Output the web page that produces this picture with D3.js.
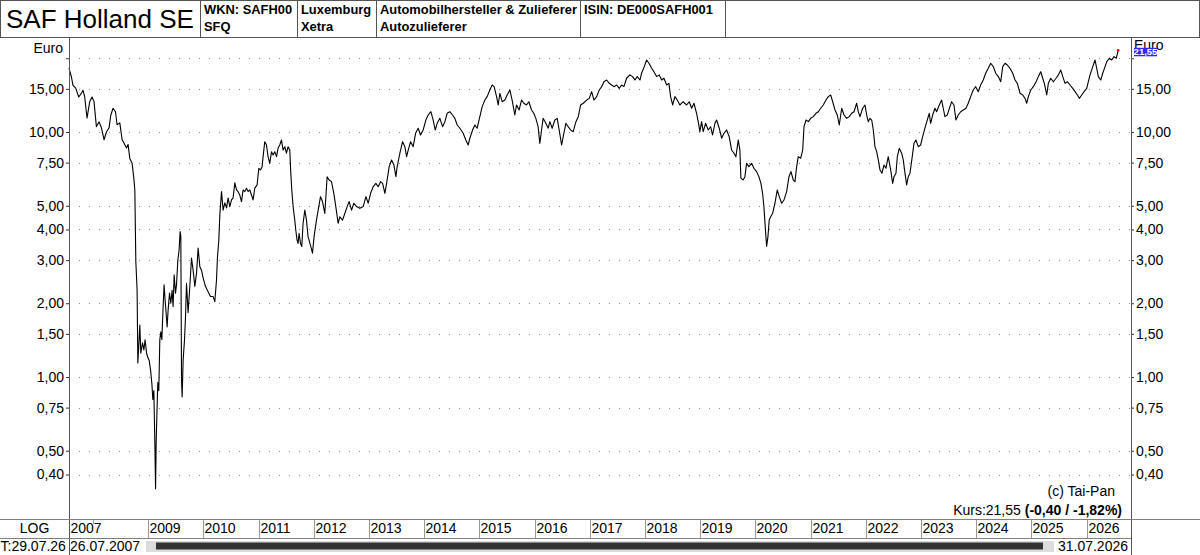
<!DOCTYPE html>
<html>
<head>
<meta charset="utf-8">
<script src="https://cdn.jsdelivr.net/npm/d3@7/dist/d3.min.js"></script>
<style>
  html, body { margin: 0; padding: 0; background: #fff; }
  svg { display: block; font-family: Arial, "Liberation Sans", sans-serif; }
</style>
</head>
<body>
<svg id="chart" width="1200" height="555"></svg>
<script>
// closing prices: decimal year / price in euro
const datesA = [2007.564, 2007.608, 2007.637, 2007.686, 2007.741, 2007.790, 2007.819, 2007.849, 2007.891, 2007.940, 2007.982,
  2008.018, 2008.061, 2008.109, 2008.152, 2008.199, 2008.243, 2008.290, 2008.321, 2008.362, 2008.406, 2008.435, 2008.484, 2008.526, 2008.562, 2008.605, 2008.634, 2008.665, 2008.707, 2008.737, 2008.756,
  2008.774, 2008.797, 2008.810, 2008.833, 2008.846, 2008.864, 2008.895, 2008.919, 2008.942, 2008.968, 2008.991,
  2009.015, 2009.040, 2009.064, 2009.082, 2009.100, 2009.118, 2009.131, 2009.142, 2009.154, 2009.172, 2009.190, 2009.208, 2009.227, 2009.245, 2009.268, 2009.286, 2009.304, 2009.322, 2009.341, 2009.359, 2009.384, 2009.408, 2009.431, 2009.449, 2009.468, 2009.493, 2009.511, 2009.535, 2009.558, 2009.576, 2009.589, 2009.602, 2009.613, 2009.631, 2009.656, 2009.674, 2009.692, 2009.721, 2009.752, 2009.783, 2009.812, 2009.843, 2009.874, 2009.903, 2009.934, 2009.964, 2009.993,
  2010.037, 2010.084, 2010.127, 2010.175, 2010.205, 2010.236, 2010.254, 2010.278, 2010.296, 2010.327, 2010.356, 2010.387, 2010.418, 2010.447, 2010.477, 2010.508, 2010.537, 2010.568, 2010.599, 2010.628, 2010.658, 2010.689, 2010.718, 2010.749, 2010.780, 2010.809, 2010.840, 2010.870, 2010.899, 2010.930, 2010.972];
const pricesA = [18.2, 16.8, 15.5, 15.1, 13.9, 14.4, 14.8, 13.9, 11.4, 13.3, 13.9,
  13.3, 10.5, 11.0, 10.4, 9.3, 10.0, 10.4, 11.7, 12.5, 12.1, 10.7, 10.9, 9.3, 9.0, 8.6, 8.9, 7.8, 7.45, 6.5, 5.8,
  2.96, 2.26, 1.14, 1.42, 1.63, 1.25, 1.38, 1.29, 1.42, 1.25, 1.2,
  1.17, 1.07, 0.94, 0.81, 0.88, 0.54, 0.35, 0.54, 0.69, 0.95, 0.88, 1.42, 1.53, 1.42, 1.94, 2.38, 2.06, 1.83, 1.6, 1.88, 2.2, 2.0, 2.26, 1.94, 2.61, 2.2, 2.38, 3.0, 3.3, 3.92, 3.74, 0.97, 0.83, 1.17, 1.42, 1.76, 2.41, 1.83, 2.34, 3.06, 2.73, 2.34, 2.66, 3.36, 2.82, 2.73, 2.54,
  2.34, 2.23, 2.13, 2.13, 2.03, 2.49, 3.1, 3.62, 4.58, 5.71, 4.8, 5.14, 4.9, 5.38, 4.96, 5.28, 5.38, 6.2, 5.8, 5.71, 5.53, 5.2, 5.8, 5.71, 5.9, 5.71, 5.8, 5.53, 5.28, 5.9, 6.08];

const datesB = [2011.003, 2011.034, 2011.062, 2011.081, 2011.111, 2011.142, 2011.171, 2011.202, 2011.233, 2011.262, 2011.293, 2011.324, 2011.352, 2011.383, 2011.414, 2011.443, 2011.474, 2011.505, 2011.534, 2011.565, 2011.583, 2011.601, 2011.625, 2011.655, 2011.673, 2011.697, 2011.715, 2011.733, 2011.759, 2011.782, 2011.806, 2011.837, 2011.867, 2011.896, 2011.914, 2011.945, 2011.976,
  2012.005, 2012.048, 2012.090, 2012.121, 2012.157, 2012.199, 2012.241, 2012.277, 2012.320, 2012.362, 2012.398, 2012.440, 2012.471, 2012.520, 2012.561, 2012.603, 2012.639, 2012.683, 2012.724, 2012.773, 2012.833, 2012.893, 2012.942, 2012.984,
  2013.027, 2013.074, 2013.123, 2013.165, 2013.208, 2013.245, 2013.286, 2013.317, 2013.364, 2013.408, 2013.450, 2013.486, 2013.509, 2013.558, 2013.607, 2013.649, 2013.680, 2013.709, 2013.752, 2013.799, 2013.843, 2013.890, 2013.933, 2013.980,
  2014.029, 2014.071, 2014.120, 2014.162, 2014.198, 2014.234, 2014.283, 2014.332, 2014.374, 2014.415, 2014.464, 2014.513, 2014.555, 2014.597, 2014.646, 2014.705, 2014.754, 2014.796, 2014.827, 2014.876, 2014.917, 2014.959];
const pricesB = [7.11, 7.0, 7.22, 7.93, 9.13, 8.85, 7.93, 7.45, 8.31, 8.06, 8.31, 7.93, 8.58, 8.85, 9.28, 8.44, 8.71, 8.19, 8.71, 8.44, 6.81, 5.8, 4.96, 4.37, 3.98, 3.62, 3.51, 3.86, 3.51, 3.41, 4.24, 4.8, 4.37, 3.74, 3.62, 3.41, 3.2,
  3.74, 4.37, 4.96, 5.45, 5.2, 4.65, 6.57, 6.37, 6.27, 5.62, 4.96, 4.24, 4.51, 4.37, 4.65, 4.96, 5.2, 4.8, 5.12, 4.96, 4.88, 4.96, 5.45, 5.12,
  5.62, 5.98, 6.17, 5.98, 6.27, 6.17, 5.62, 6.17, 7.22, 7.69, 7.33, 6.57, 7.22, 8.19, 9.13, 8.71, 7.93, 8.44, 9.13, 8.71, 9.88, 10.36, 9.72, 10.19,
  11.19, 11.73, 12.1, 11.19, 10.19, 10.85, 11.37, 10.51, 11.02, 11.92, 12.1, 11.73, 11.37, 10.68, 10.36, 9.88, 9.28, 8.85, 9.43, 10.19, 10.68, 10.36];

const datesC = [2015.008, 2015.050, 2015.099, 2015.140, 2015.189, 2015.231, 2015.267, 2015.311, 2015.340, 2015.371, 2015.412, 2015.461, 2015.503, 2015.552, 2015.593, 2015.642, 2015.673, 2015.720, 2015.764, 2015.805, 2015.854, 2015.896, 2015.945, 2015.986,
  2016.023, 2016.064, 2016.095, 2016.126, 2016.155, 2016.204, 2016.246, 2016.277, 2016.318, 2016.367, 2016.409, 2016.445, 2016.489, 2016.518, 2016.566, 2016.608, 2016.652, 2016.699, 2016.748, 2016.790, 2016.833, 2016.880, 2016.942, 2016.989,
  2017.032, 2017.074, 2017.123, 2017.170, 2017.214, 2017.255, 2017.304, 2017.351, 2017.395, 2017.437, 2017.485, 2017.532, 2017.576, 2017.617, 2017.666, 2017.726, 2017.775, 2017.817, 2017.859, 2017.908, 2017.938, 2017.986,
  2018.029, 2018.071, 2018.120, 2018.161, 2018.210, 2018.257, 2018.301, 2018.343, 2018.392, 2018.433, 2018.464, 2018.500, 2018.542, 2018.584, 2018.633, 2018.692, 2018.754, 2018.801, 2018.845, 2018.887, 2018.935, 2018.964, 2018.995];
const pricesC = [11.55, 12.69, 13.5, 13.94, 14.84, 15.55, 15.31, 13.94, 12.89, 14.39, 13.29, 13.5, 14.16, 14.84, 13.5, 11.73, 12.89, 12.3, 13.5, 13.1, 12.89, 13.29, 12.3, 11.92,
  11.37, 10.51, 8.99, 10.19, 11.37, 10.85, 10.36, 11.02, 10.36, 11.19, 11.37, 10.19, 8.85, 9.57, 10.85, 10.51, 10.19, 10.03, 11.02, 11.55, 12.89, 13.1, 13.5, 13.72,
  14.61, 13.5, 13.94, 14.84, 15.31, 16.04, 16.3, 15.8, 15.55, 15.31, 15.55, 15.07, 15.55, 15.31, 16.57, 17.1, 16.83, 16.3, 16.83, 16.3, 17.37, 18.49,
  19.68, 19.08, 18.2, 17.63, 16.83, 17.1, 16.3, 16.57, 15.55, 15.8, 13.94, 12.89, 13.94, 13.5, 12.89, 13.29, 12.89, 13.29, 12.5, 13.1, 11.92, 11.02, 10.03];

const datesD = [2019.026, 2019.055, 2019.098, 2019.146, 2019.189, 2019.225, 2019.267, 2019.298, 2019.345, 2019.389, 2019.430, 2019.479, 2019.526, 2019.570, 2019.612, 2019.648, 2019.690, 2019.720, 2019.738, 2019.780, 2019.811, 2019.842, 2019.883, 2019.932, 2019.974,
  2020.023, 2020.064, 2020.101, 2020.131, 2020.155, 2020.179, 2020.204, 2020.228, 2020.251, 2020.277, 2020.313, 2020.355, 2020.396, 2020.432, 2020.476, 2020.518, 2020.566, 2020.608, 2020.644, 2020.686, 2020.717, 2020.747, 2020.776, 2020.820, 2020.856, 2020.880, 2020.916, 2020.958,
  2021.001, 2021.048, 2021.097, 2021.139, 2021.182, 2021.229, 2021.278, 2021.320, 2021.363, 2021.400, 2021.441, 2021.483, 2021.519, 2021.563, 2021.605, 2021.654, 2021.701, 2021.744, 2021.786, 2021.834, 2021.864, 2021.894, 2021.943, 2021.985,
  2022.016, 2022.045, 2022.076, 2022.107, 2022.136, 2022.166, 2022.197, 2022.226, 2022.257, 2022.293, 2022.329, 2022.365, 2022.407, 2022.451, 2022.487, 2022.511, 2022.547, 2022.571, 2022.607, 2022.650, 2022.679, 2022.710, 2022.741, 2022.770, 2022.801, 2022.842, 2022.873, 2022.909, 2022.951, 2022.994];
const pricesD = [11.02, 10.03, 10.85, 10.19, 10.51, 9.72, 10.85, 11.19, 10.36, 9.43, 9.88, 10.19, 9.57, 8.44, 8.19, 7.93, 9.28, 8.44, 6.48, 6.37, 6.57, 7.45, 7.22, 7.45, 7.11,
  6.89, 6.57, 6.17, 5.62, 4.96, 4.1, 3.41, 3.74, 4.37, 4.51, 4.65, 5.12, 5.8, 5.45, 5.12, 5.28, 5.71, 6.57, 6.89, 6.37, 6.27, 7.22, 7.93, 7.82, 8.44, 10.51, 11.19, 11.02,
  11.37, 11.55, 11.92, 12.1, 12.5, 12.89, 13.5, 13.94, 14.16, 13.29, 12.3, 11.73, 10.68, 12.5, 11.73, 11.37, 11.55, 11.92, 12.1, 13.1, 12.1, 11.55, 12.5, 12.89,
  11.73, 11.02, 11.37, 11.19, 10.19, 8.71, 8.31, 7.69, 7.0, 6.79, 7.33, 7.11, 7.93, 7.0, 6.17, 6.57, 6.79, 7.93, 8.58, 8.19, 7.69, 6.79, 6.08, 6.57, 6.79, 7.93, 8.99, 9.28, 8.71, 8.85];

const datesE = [2023.031, 2023.072, 2023.114, 2023.150, 2023.176, 2023.212, 2023.254, 2023.284, 2023.332, 2023.375, 2023.404, 2023.435, 2023.477, 2023.526, 2023.556, 2023.598, 2023.634, 2023.676, 2023.720, 2023.767, 2023.816, 2023.857, 2023.901, 2023.948, 2023.992,
  2024.039, 2024.082, 2024.129, 2024.173, 2024.220, 2024.264, 2024.311, 2024.355, 2024.401, 2024.445, 2024.481, 2024.523, 2024.564, 2024.613, 2024.662, 2024.704, 2024.745, 2024.794, 2024.843, 2024.885, 2024.915, 2024.944, 2024.988,
  2025.035, 2025.084, 2025.126, 2025.169, 2025.205, 2025.234, 2025.278, 2025.307, 2025.350, 2025.398, 2025.446, 2025.488, 2025.532, 2025.568, 2025.610, 2025.651, 2025.700, 2025.749, 2025.791, 2025.833, 2025.869, 2025.912, 2025.954,
  2026.003, 2026.032, 2026.063, 2026.112, 2026.153, 2026.184, 2026.213, 2026.257, 2026.293, 2026.335, 2026.366, 2026.413, 2026.456, 2026.498, 2026.540, 2026.573];
const pricesE = [9.57, 10.36, 11.19, 11.92, 10.85, 11.73, 12.5, 12.1, 12.89, 13.5, 12.5, 11.55, 11.73, 12.69, 13.29, 12.89, 11.19, 11.73, 12.1, 12.3, 12.5, 13.1, 13.94, 14.84, 15.31,
  14.61, 15.55, 16.3, 17.37, 18.2, 19.08, 18.49, 17.37, 16.83, 16.04, 18.49, 19.08, 18.77, 18.2, 17.37, 16.3, 15.8, 14.39, 14.16, 13.72, 13.1, 13.94, 14.84,
  15.31, 16.04, 16.83, 17.63, 16.57, 15.8, 14.16, 15.8, 16.57, 16.04, 16.57, 17.1, 17.9, 16.83, 15.8, 16.04, 15.55, 15.07, 14.61, 14.16, 13.72, 14.16, 14.61,
  15.07, 16.04, 17.1, 18.49, 19.68, 18.2, 16.83, 16.3, 17.37, 18.49, 19.37, 20.0, 19.68, 20.3, 20.0, 21.55];

const yTicks = [20, 15, 10, 7.5, 5, 4, 3, 2, 1.5, 1, 0.75, 0.5, 0.4];

const title = "SAF Holland SE";
const headerCells = [
  ["WKN: SAFH00", "SFQ"],
  ["Luxemburg", "Xetra"],
  ["Automobilhersteller & Zulieferer", "Autozulieferer"],
  ["ISIN: DE000SAFH001", ""]
];
const unit = "Euro";
const scaleMode = "LOG";
const lastTradeLabel = "T:29.07.26";
const firstDateLabel = "26.07.2007";
const endDateLabel = "31.07.2026";
const dayChange = -0.40;
const dayChangePct = -1.82;
const copyright = "(c) Tai-Pan";

// layout
const W = 1200, H = 555;
const headerH = 38;
const headerEdges = [200, 297, 376, 580, 725];
const plot = { left: 69, right: 1131, top: 38, bottom: 519 };
const dateRowTop = 538;

const svg = d3.select("#chart");
const de = d3.formatLocale({ decimal: ",", thousands: ".", grouping: [3], currency: ["", " €"], minus: "-" });
const fmt = de.format(".2f");

function decToDate(t) {
  const yr = Math.floor(t);
  const a = Date.UTC(yr, 0, 1), b = Date.UTC(yr + 1, 0, 1);
  return new Date(a + (t - yr) * (b - a));
}

const dates = [...datesA, ...datesB, ...datesC, ...datesD, ...datesE];
const prices = [...pricesA, ...pricesB, ...pricesC, ...pricesD, ...pricesE];
const series = dates.map((t, i) => ({ date: decToDate(t), value: prices[i] }));
const last = series[series.length - 1];

const x = d3.scaleUtc()
  .domain([new Date(Date.UTC(2007, 6, 26)), new Date(Date.UTC(2026, 9, 22))])
  .range([plot.left, plot.right]);

const y = d3.scaleLog()
  .domain([0.2633, 24.19])
  .range([plot.bottom, plot.top]);

// dotted grid
svg.append("g")
  .selectAll("line")
  .data(yTicks)
  .join("line")
  .attr("x1", plot.left + 1)
  .attr("x2", plot.right)
  .attr("y1", d => Math.round(y(d)) + 0.5)
  .attr("y2", d => Math.round(y(d)) + 0.5)
  .attr("stroke", "#8c8c8c")
  .attr("stroke-dasharray", "1,9")
  .attr("stroke-dashoffset", 1)
  .attr("shape-rendering", "crispEdges");

// price line
svg.append("path")
  .datum(series)
  .attr("fill", "none")
  .attr("stroke", "#000")
  .attr("stroke-width", 1.1)
  .attr("stroke-linejoin", "round")
  .attr("d", d3.line().x(d => x(d.date)).y(d => y(d.value)));

svg.append("circle")
  .attr("cx", x(last.date))
  .attr("cy", y(last.value))
  .attr("r", 1.3)
  .attr("fill", "#e00000");

// value axes, left and right
const tickLabel = d => d === 20 ? "" : fmt(d);

function styleAxis(g) {
  g.select(".domain").remove();
  g.selectAll(".tick line").attr("stroke", "#333");
  g.selectAll(".tick text").attr("font-size", 14).attr("fill", "#000").attr("font-family", "Arial, 'Liberation Sans', sans-serif");
}

svg.append("g")
  .attr("transform", `translate(${plot.left},0)`)
  .call(d3.axisLeft(y).tickValues(yTicks).tickFormat(tickLabel).tickSize(3).tickPadding(2))
  .call(styleAxis);

svg.append("g")
  .attr("transform", `translate(${plot.right},0)`)
  .call(d3.axisRight(y).tickValues(yTicks).tickFormat(tickLabel).tickSize(3).tickPadding(2))
  .call(styleAxis);

// frame
const frame = svg.append("g").attr("fill", "none").attr("shape-rendering", "crispEdges");
frame.append("rect")
  .attr("x", 0.5).attr("y", 0.5)
  .attr("width", W - 1).attr("height", headerH - 1)
  .attr("stroke", "#555");
headerEdges.forEach(e => {
  frame.append("line").attr("x1", e + 0.5).attr("x2", e + 0.5).attr("y1", 0).attr("y2", headerH).attr("stroke", "#555");
});
frame.append("line").attr("x1", plot.left + 0.5).attr("x2", plot.left + 0.5).attr("y1", headerH).attr("y2", H).attr("stroke", "#555");
frame.append("line").attr("x1", plot.right + 0.5).attr("x2", plot.right + 0.5).attr("y1", headerH).attr("y2", H).attr("stroke", "#555");
frame.append("line").attr("x1", 0).attr("x2", W).attr("y1", plot.bottom + 0.5).attr("y2", plot.bottom + 0.5).attr("stroke", "#808080");
frame.append("line").attr("x1", 0).attr("x2", plot.right).attr("y1", dateRowTop + 0.5).attr("y2", dateRowTop + 0.5).attr("stroke", "#808080");

// header
svg.append("text")
  .attr("x", 6).attr("y", 27.5)
  .attr("font-size", 26)
  .attr("fill", "#000")
  .text(title);

headerCells.forEach((lines, i) => {
  lines.forEach((s, j) => {
    svg.append("text")
      .attr("x", headerEdges[i] + 4)
      .attr("y", j === 0 ? 14 : 31)
      .attr("font-size", 12.9)
      .attr("font-weight", "bold")
      .attr("fill", "#000")
      .text(s);
  });
});

// unit labels and last price tag (the tag sits over the right unit label, as in the source)
svg.append("text").attr("x", plot.left - 6).attr("y", 52.5).attr("text-anchor", "end").attr("font-size", 14).text(unit);
svg.append("text").attr("x", plot.right + 3).attr("y", 50).attr("font-size", 14).text(unit);

const tagY = y(last.value);
svg.append("rect")
  .attr("x", plot.right + 3).attr("y", tagY - 2.5)
  .attr("width", 23).attr("height", 8.5)
  .attr("fill", "#2b2bff");
svg.append("text")
  .attr("x", plot.right + 14.5).attr("y", tagY + 5)
  .attr("text-anchor", "middle")
  .attr("font-size", 9.5)
  .attr("font-weight", "bold")
  .attr("fill", "#fff")
  .text(fmt(last.value));

// bottom-right info
svg.append("text")
  .attr("x", 1115).attr("y", 496)
  .attr("text-anchor", "end")
  .attr("font-size", 14)
  .text(copyright);

const kurs = svg.append("text")
  .attr("x", 1122).attr("y", 514.5)
  .attr("text-anchor", "end")
  .attr("font-size", 14);
kurs.append("tspan").text(`Kurs:${fmt(last.value)} `);
kurs.append("tspan").attr("font-weight", "bold").text(`(${fmt(dayChange)} / ${fmt(dayChangePct)}%)`);

// time axis: start date plus yearly separators, labels skipped where they collide
const yearMarks = [x.domain()[0], ...x.ticks(d3.utcYear.every(1))];
const yearAxis = svg.append("g");
let labelEnd = -Infinity;
yearMarks.forEach((d, i) => {
  const px = Math.round(x(d));
  const showLabel = px >= labelEnd + 2;
  if (i > 0) {
    yearAxis.append("line")
      .attr("x1", px + 0.5).attr("x2", px + 0.5)
      .attr("y1", plot.bottom + 1)
      .attr("y2", showLabel ? dateRowTop : plot.bottom + 5)
      .attr("stroke", "#999")
      .attr("shape-rendering", "crispEdges");
  }
  if (showLabel) {
    const t = yearAxis.append("text")
      .attr("x", px + 1.5).attr("y", 533)
      .attr("font-size", 14)
      .attr("fill", "#000")
      .text(d3.utcFormat("%Y")(d));
    labelEnd = px + 1.5 + t.node().getComputedTextLength();
  }
});

// left panel + date row
svg.append("text").attr("x", plot.left / 2).attr("y", 533).attr("text-anchor", "middle").attr("font-size", 14).text(scaleMode);
svg.append("text").attr("x", 0.5).attr("y", 551).attr("font-size", 14).text(lastTradeLabel);
svg.append("text").attr("x", plot.left + 1).attr("y", 551).attr("font-size", 14).text(firstDateLabel);
svg.append("text").attr("x", plot.right - 3).attr("y", 551).attr("text-anchor", "end").attr("font-size", 14).text(endDateLabel);

// scrollbar
svg.append("rect").attr("x", 146).attr("y", 541).attr("width", 908).attr("height", 11).attr("fill", "#dcdcdc");
svg.append("rect").attr("x", 156).attr("y", 542.5).attr("width", 887).attr("height", 7).attr("fill", "#333");
</script>
</body>
</html>
